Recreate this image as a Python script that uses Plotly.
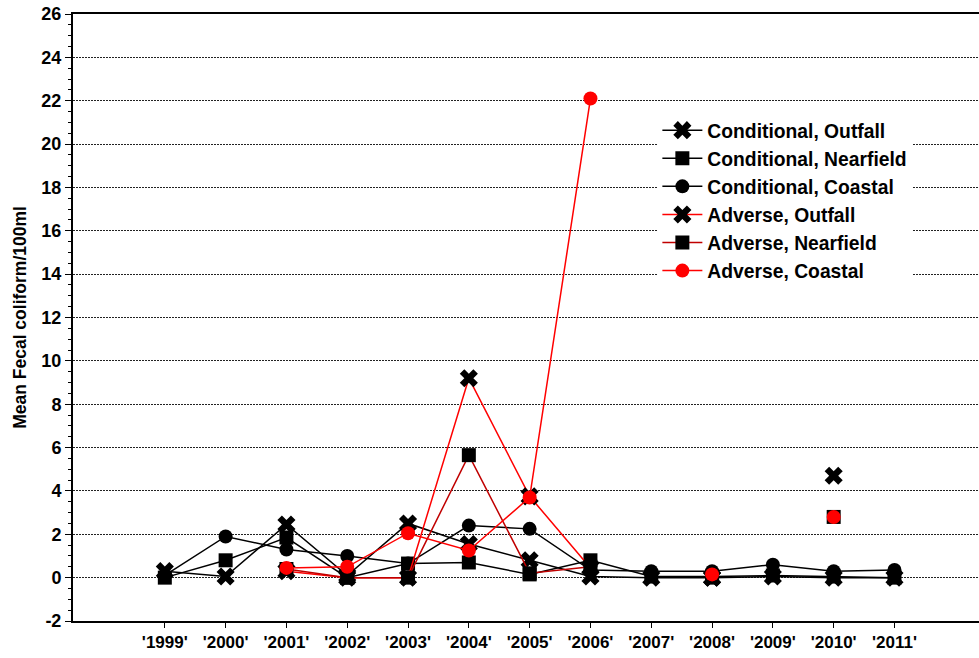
import plotly.graph_objects as go

# Survey years (category labels as printed on the axis)
years = ["'1999'", "'2000'", "'2001'", "'2002'", "'2003'", "'2004'", "'2005'",
         "'2006'", "'2007'", "'2008'", "'2009'", "'2010'", "'2011'"]

# Y-axis tick values and their printed labels
y_ticks = [-2, 0, 2, 4, 6, 8, 10, 12, 14, 16, 18, 20, 22, 24, 26]
y_tick_labels = ["-2", "0", "2", "4", "6", "8", "10", "12", "14", "16",
                 "18", "20", "22", "24", "26"]

# Mean fecal coliform (per 100 ml) under conditional sampling
cond_outfall = [0.3, 0.05, 2.45, 0.1, 2.5, 1.55, 0.8, 0.05, 0.0, 0.0, 0.05, 0.0, 0.0]
cond_nearfield = [0.0, 0.8, 1.85, 0.0, 0.65, 0.7, 0.15, 0.8, 0.05, 0.05, 0.1, 0.05, 0.0]
cond_coastal = [0.1, 1.9, 1.3, 1.0, 0.65, 2.4, 2.25, 0.35, 0.3, 0.3, 0.6, 0.3, 0.35]

# Mean fecal coliform (per 100 ml) under adverse conditions (None = not sampled)
adv_outfall = [None, None, 0.3, 0.0, 0.0, 9.2, 3.75, 0.45, None, 0.0, None, 4.7, None]
adv_nearfield = [None, None, 0.4, 0.0, 0.0, 5.65, 0.2, 0.5, None, 0.0, None, 2.8, None]
adv_coastal = [None, None, 0.45, 0.5, 2.05, 1.25, 3.7, 22.1, None, 0.15, None, 2.8, None]

series = [
    ("Conditional, Outfall", cond_outfall, "black", "x", "black", 16),
    ("Conditional, Nearfield", cond_nearfield, "black", "square", "black", 14),
    ("Conditional, Coastal", cond_coastal, "black", "circle", "black", 14),
    ("Adverse, Outfall", adv_outfall, "#ff0000", "x", "black", 16),
    ("Adverse, Nearfield", adv_nearfield, "#c00000", "square", "black", 14),
    ("Adverse, Coastal", adv_coastal, "#ff0000", "circle", "#ff0000", 14),
]

fig = go.Figure()
for name, vals, lcol, sym, mcol, msize in series:
    fig.add_trace(go.Scatter(
        x=years, y=vals, name=name, mode="lines+markers",
        line=dict(color=lcol, width=1.5),
        marker=dict(symbol=sym, size=msize, color=mcol, line=dict(width=0)),
        connectgaps=False,
    ))

font_main = "Liberation Sans, Arial, sans-serif"

fig.update_layout(
    width=979, height=658,
    margin=dict(l=73, r=0, t=14, b=37),
    paper_bgcolor="white", plot_bgcolor="white",
    font=dict(family=font_main, color="black"),
    showlegend=True,
    legend=dict(
        x=0.645, y=0.84, xanchor="left", yanchor="top",
        bgcolor="white", borderwidth=0,
        font=dict(family=font_main, size=19.3, color="black", weight="bold"),
        itemwidth=40, tracegroupgap=0,
    ),
    xaxis=dict(
        type="category", categoryorder="array", categoryarray=years,
        range=[-1.51, 13.39],
        showline=True, linecolor="black", linewidth=2, mirror=True,
        ticks="outside", ticklen=5, tickwidth=1, tickcolor="black",
        showgrid=False, zeroline=False,
        tickfont=dict(family=font_main, size=17, weight="bold"),
    ),
    yaxis=dict(
        range=[-2, 26], tickmode="array", tickvals=y_ticks, ticktext=y_tick_labels,
        showline=True, linecolor="black", linewidth=2,
        ticks="outside", ticklen=6, tickwidth=1, tickcolor="black",
        minor=dict(dtick=0.5, ticks="outside", ticklen=3, tickcolor="black", showgrid=False),
        showgrid=True, gridcolor="#222222", griddash="2px,1px", gridwidth=1,
        zeroline=False,
        tickfont=dict(family=font_main, size=18, weight="bold"),
        title=dict(text="Mean Fecal coliform/100ml", standoff=10,
                   font=dict(family=font_main, size=17.5, weight="bold")),
    ),
)

fig.write_html("out.html")
